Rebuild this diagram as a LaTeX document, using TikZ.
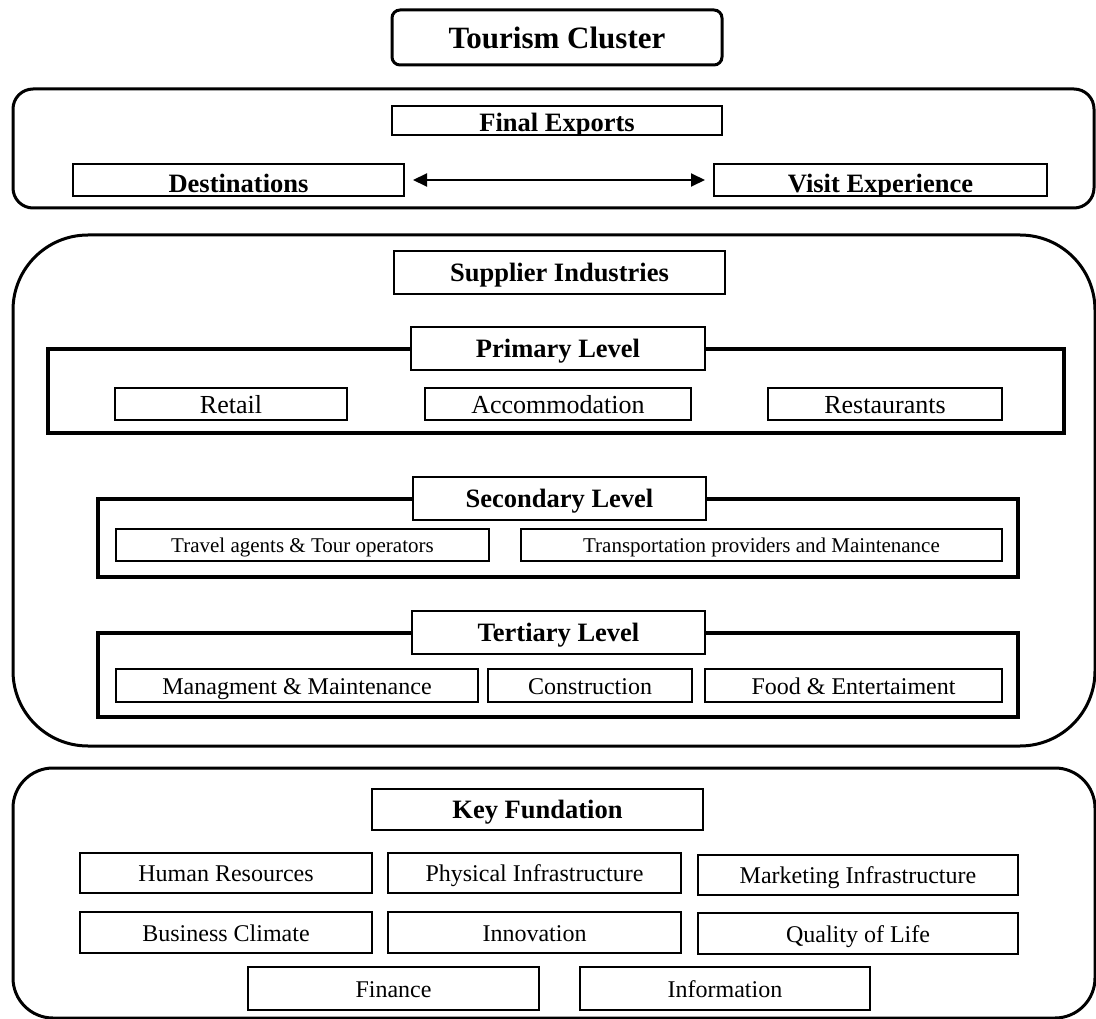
\documentclass[tikz,border=0pt]{standalone}
\usepackage{fontspec}
\setmainfont{Liberation Serif}
\usetikzlibrary{arrows.meta}

% font sizes used in the chart
\newcommand\titlefnt{\fontsize{31}{34}\selectfont\bfseries}
\newcommand\hdrfnt{\fontsize{26.5}{30}\selectfont\bfseries}
\newcommand\bigfnt{\fontsize{26}{29}\selectfont}
\newcommand\midfnt{\fontsize{24}{27}\selectfont}
\newcommand\smallfnt{\fontsize{21}{24}\selectfont}

\begin{document}
\begin{tikzpicture}[x=1pt,y=-1pt,
  panel/.style={draw, line width=3pt, inner sep=0pt, outer sep=0pt},
  levelframe/.style={draw, line width=4pt, inner sep=0pt, outer sep=0pt},
  cell/.style={draw, line width=2pt, fill=white, inner sep=0pt, outer sep=0pt, text depth=0pt},
  tag/.style={cell, font=\hdrfnt, text height=18.5pt},
  item/.style={cell, font=\bigfnt, text height=18.5pt},
  sitem/.style={cell, font=\smallfnt, text height=15pt},
  mitem/.style={cell, font=\midfnt, text height=17pt},
  cliptext/.style={anchor=base, inner sep=0pt, font=\hdrfnt},
  link/.style={line width=2pt, {Triangle[length=14pt,width=13pt]}-{Triangle[length=14pt,width=13pt]}}
]
\useasboundingbox (0,0) rectangle (1096,1019);

% ---------- title ----------
\node[panel, rounded corners=8pt, minimum width=330, minimum height=55, font=\titlefnt,
      text height=21.5pt, text depth=0pt]
  (title) at (557,37.5) {Tourism Cluster};

% ---------- final exports ----------
\node[panel, rounded corners=20pt, minimum width=1081, minimum height=119] (exports) at (553.5,148.5) {};

\node[cell, minimum width=330, minimum height=29] (fe) at (557,120.5) {};
\node[cell, minimum width=331, minimum height=32] (dest) at (238.5,180) {};
\node[cell, minimum width=333, minimum height=32] (visit) at (880.5,180) {};

\begin{scope}
  \clip ([shift={(1pt,1pt)}]fe.south west) rectangle ([shift={(-1pt,-1pt)}]fe.north east);
  \node[cliptext] (fetext) at ([yshift=3pt]fe.south) {Final Exports};
\end{scope}
\begin{scope}
  \clip ([shift={(1pt,1pt)}]dest.south west) rectangle ([shift={(-1pt,-1pt)}]dest.north east);
  \node[cliptext] (desttext) at ([yshift=3pt]dest.south) {Destinations};
\end{scope}
\begin{scope}
  \clip ([shift={(1pt,1pt)}]visit.south west) rectangle ([shift={(-1pt,-1pt)}]visit.north east);
  \node[cliptext] (visittext) at ([yshift=3pt]visit.south) {Visit Experience};
\end{scope}

\draw[link] ([xshift=9pt]dest.east) -- ([xshift=-9pt]visit.west);

% ---------- supplier industries ----------
\node[panel, rounded corners=75pt, minimum width=1082, minimum height=511] (supply) at (554,490.5) {};
\node[tag, minimum width=331, minimum height=43] (supplier) at (559.5,272.5) {Supplier Industries};

% primary level
\node[levelframe, minimum width=1016, minimum height=84] (prim) at (556,391) {};
\node[tag, minimum width=294, minimum height=43] (primtag) at (558,348.5) {Primary Level};
\node[item, minimum width=232, minimum height=32] (retail) at (231,404) {Retail};
\node[item, minimum width=266, minimum height=32] (accom) at (558,404) {Accommodation};
\node[item, minimum width=234, minimum height=32] (rest) at (885,404) {Restaurants};

% secondary level
\node[levelframe, minimum width=920, minimum height=78] (sec) at (558,538) {};
\node[tag, minimum width=293, minimum height=43] (sectag) at (559.5,498.5) {Secondary Level};
\node[sitem, minimum width=373, minimum height=32] (travel) at (302.5,545) {Travel agents \& Tour operators};
\node[sitem, minimum width=481, minimum height=32] (transp) at (761.5,545) {Transportation providers and Maintenance};

% tertiary level
\node[levelframe, minimum width=920, minimum height=84] (ter) at (558,675) {};
\node[tag, minimum width=293, minimum height=43] (tertag) at (558.5,632.5) {Tertiary Level};
\node[mitem, minimum width=362, minimum height=33] (manage) at (297,685.5) {Managment \& Maintenance};
\node[mitem, minimum width=204, minimum height=33] (constr) at (590,685.5) {Construction};
\node[mitem, minimum width=297, minimum height=33] (food) at (853.5,685.5) {Food \& Entertaiment};

% ---------- key foundation ----------
\node[panel, rounded corners=40pt, minimum width=1082, minimum height=250] (base) at (554,893) {};
\node[tag, minimum width=331, minimum height=41] (key) at (537.5,809.5) {Key Fundation};

\node[mitem, minimum width=292, minimum height=40] (human) at (226,873) {Human Resources};
\node[mitem, minimum width=293, minimum height=40] (phys) at (534.5,873) {Physical Infrastructure};
\node[mitem, minimum width=320, minimum height=40] (mark) at (858,875) {Marketing Infrastructure};

\node[mitem, minimum width=292, minimum height=41] (busi) at (226,932.5) {Business Climate};
\node[mitem, minimum width=293, minimum height=41] (innov) at (534.5,932.5) {Innovation};
\node[mitem, minimum width=320, minimum height=41] (qual) at (858,933.5) {Quality of Life};

\node[mitem, minimum width=291, minimum height=43] (fin) at (393.5,988.5) {Finance};
\node[mitem, minimum width=290, minimum height=43] (info) at (725,988.5) {Information};

\end{tikzpicture}
\end{document}
